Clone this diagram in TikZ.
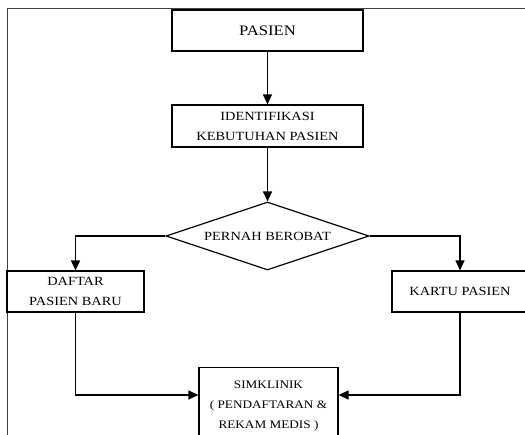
\documentclass[tikz,border=0pt]{standalone}
\usepackage{fontspec}
\setmainfont[FakeStretch=1.15]{Liberation Serif}
\usetikzlibrary{arrows.meta,shapes.geometric,calc}
\begin{document}
\begin{tikzpicture}[x=1pt,y=-1pt,
  box/.style={draw=black,line width=1.2pt,inner sep=0pt,align=center,font=\fontsize{12.5}{20}\selectfont},
  flow/.style={draw=black,line width=1.2pt,-{Triangle[length=10pt,width=9pt]}},
  frame/.style={draw=black!75,line width=1pt}]
\useasboundingbox (0,0) rectangle (525,434);
\clip (0,0) rectangle (525,434);
\draw[frame] (525,8) -- (7,8) -- (7,440);
\node[box,minimum width=191pt,minimum height=41pt,font=\fontsize{14.5}{18}\selectfont] (pasien) at (267.5,30.5) {PASIEN};
\node[box,minimum width=191pt,minimum height=42pt] (ident) at (267.5,126) {IDENTIFIKASI\\KEBUTUHAN PASIEN};
\node[box,diamond,aspect=3,minimum width=203pt,minimum height=68pt] (dec) at (267.5,236) {PERNAH BEROBAT};
\node[box,minimum width=137pt,minimum height=41pt] (daftar) at (75.5,291.5) {DAFTAR\\PASIEN BARU};
\node[box,minimum width=136pt,minimum height=41pt] (kartu) at (460,291.5) {KARTU PASIEN};
\node[box,anchor=north,minimum width=139pt,minimum height=76pt,font=\fontsize{11.5}{20}\selectfont] (simk) at (268.5,367) {SIMKLINIK\\( PENDAFTARAN \&\\REKAM MEDIS )};
\draw[flow] (pasien) -- (ident);
\draw[flow] (ident) -- (dec);
\draw[flow] (dec.west) -| (daftar.north);
\draw[flow] (dec.east) -| (kartu.north);
\draw[flow] (daftar.south) |- ($(simk.north west)+(0,28)$);
\draw[flow] (kartu.south) |- ($(simk.north east)+(0,28)$);
\end{tikzpicture}
\end{document}
